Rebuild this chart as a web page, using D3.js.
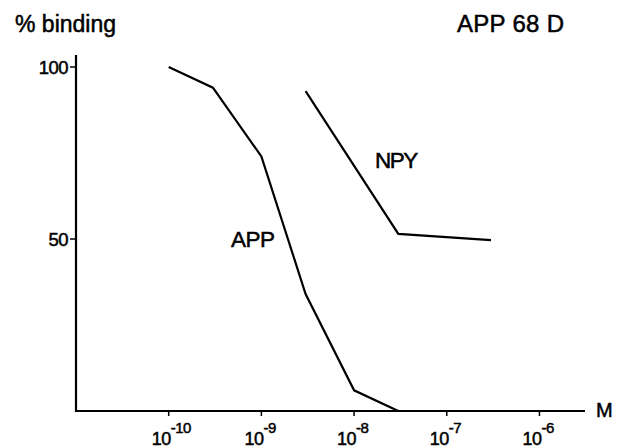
<!DOCTYPE html>
<html><head><meta charset="utf-8">
<script src="https://cdn.jsdelivr.net/npm/d3@7"></script>
<style>body{margin:0;background:#fff}svg{display:block}text{font-family:"Liberation Sans",Arial,Helvetica,sans-serif;fill:#000;stroke:#000;stroke-width:0.5px}</style>
</head><body><svg id="c" width="626" height="448"></svg>
<script>
const concentrations_APP = [1e-10, 3e-10, 1e-9, 3e-9, 1e-8, 3e-8];
const binding_APP = [100, 94, 74, 34, 6, 0];
const concentrations_NPY = [3e-9, 3e-8, 3e-7];
const binding_NPY = [93, 51.5, 49.7];
const xTickValues = [1e-10, 1e-9, 1e-8, 1e-7, 1e-6];
const xTickExponents = ["-10", "-9", "-8", "-7", "-6"];
const yTickValues = [50, 100];
const yTickLabels = ["50", "100"];

const svg = d3.select("#c");
const x = d3.scaleLog().domain([1e-11, 3.1e-6]).range([76, 585]);
const y = d3.scaleLinear().domain([0, 100]).range([411, 67]);

// axes
svg.append("line").attr("x1", 76).attr("x2", 76).attr("y1", 55).attr("y2", 412)
  .attr("stroke", "#000").attr("stroke-width", 2.2);
svg.append("line").attr("x1", 75).attr("x2", 585).attr("y1", 411).attr("y2", 411)
  .attr("stroke", "#000").attr("stroke-width", 2.2);

// y ticks
svg.selectAll(".yt").data(yTickValues).join("line")
  .attr("x1", 70).attr("x2", 76).attr("y1", d => y(d)).attr("y2", d => y(d))
  .attr("stroke", "#000").attr("stroke-width", 1.5);
svg.selectAll(".yl").data(yTickValues).join("text")
  .attr("x", 68).attr("y", d => y(d) + 6.5).attr("text-anchor", "end")
  .attr("font-size", 18.5).attr("letter-spacing", -0.5).text((d, i) => yTickLabels[i]);

// x ticks
svg.selectAll(".xt").data(xTickValues).join("line")
  .attr("x1", d => x(d)).attr("x2", d => x(d)).attr("y1", 411).attr("y2", 416)
  .attr("stroke", "#000").attr("stroke-width", 1.5);
const xl = svg.selectAll(".xl").data(xTickValues).join("text")
  .attr("x", d => x(d) - 17).attr("y", 445).attr("font-size", 18).attr("letter-spacing", -0.5);
xl.append("tspan").text("10");
xl.append("tspan").attr("dy", -12).attr("font-size", 15).text((d, i) => xTickExponents[i]);

// lines
const line = d3.line().x(d => x(d[0])).y(d => y(d[1]));
svg.append("path").datum(concentrations_APP.map((c, i) => [c, binding_APP[i]]))
  .attr("d", line).attr("fill", "none").attr("stroke", "#000").attr("stroke-width", 2.2);
svg.append("path").datum(concentrations_NPY.map((c, i) => [c, binding_NPY[i]]))
  .attr("d", line).attr("fill", "none").attr("stroke", "#000").attr("stroke-width", 2.2);

// labels
svg.append("text").attr("x", 15).attr("y", 32).attr("font-size", 23).text("% binding");
svg.append("text").attr("x", 457).attr("y", 32).attr("font-size", 24).attr("letter-spacing", 0.3).text("APP 68 D");
svg.append("text").attr("x", 596).attr("y", 417).attr("font-size", 20).text("M");
svg.append("text").attr("x", 231).attr("y", 247).attr("font-size", 22.5).attr("letter-spacing", -0.5).text("APP");
svg.append("text").attr("x", 375).attr("y", 168).attr("font-size", 22.5).attr("letter-spacing", -1.5).text("NPY");
</script></body></html>
